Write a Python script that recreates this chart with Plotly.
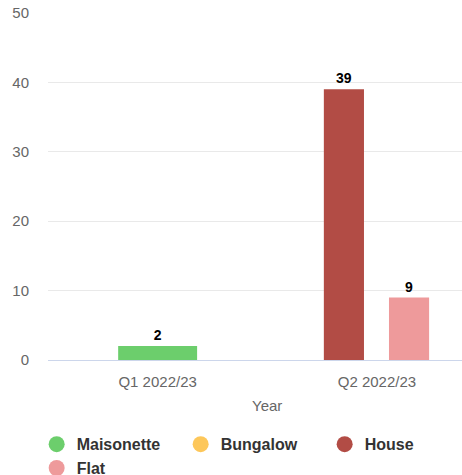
import plotly.graph_objects as go

# Quarterly counts by property type
quarters = ["Q1 2022/23", "Q2 2022/23"]
series_names = ["Maisonette", "Bungalow", "House", "Flat"]
maisonette = [2, None]
bungalow = [None, None]
house = [None, 39]
flat = [None, 9]
y_ticks = [0, 10, 20, 30, 40, 50]

values = [maisonette, bungalow, house, flat]
colors = ["#6cce6c", "#fdc75a", "#b24c45", "#ee9a9b"]
# per-series bar width and offset within a category slot
bar_width = [0.36, 0.183, 0.183, 0.183]
bar_offset = [-0.18, -0.18, -0.242, 0.055]

FONT = "Liberation Sans, Arial, sans-serif"

fig = go.Figure()
for name, vals, col, w, off in zip(series_names, values, colors, bar_width, bar_offset):
    fig.add_trace(go.Bar(
        x=quarters, y=vals, name=name,
        marker=dict(color=col, line=dict(width=0)),
        width=w, offset=off,
        text=[("" if v is None else str(v)) for v in vals],
        textposition="outside",
        textfont=dict(family=FONT, size=14, color="#000000", weight="bold"),
        cliponaxis=False,
        showlegend=False,
    ))
    # circular legend entry
    fig.add_trace(go.Scatter(
        x=[None], y=[None], mode="markers", name=name,
        marker=dict(color=col, size=16, symbol="circle"),
        showlegend=True,
    ))

fig.update_layout(
    width=462, height=475,
    margin=dict(l=48, r=0, t=13, b=115, autoexpand=False),
    paper_bgcolor="#ffffff", plot_bgcolor="#ffffff",
    barmode="overlay",
    font=dict(family=FONT, color="#666666"),
    xaxis=dict(
        type="category", range=[-0.5, 1.388],
        showgrid=False, showline=True, linecolor="#ccd6eb", linewidth=1,
        ticks="", tickfont=dict(size=15, color="#666666"),
        ticklabelstandoff=8,
        fixedrange=True,
    ),
    yaxis=dict(
        range=[0, 50], tickvals=y_ticks,
        showgrid=True, gridcolor="#e9e9e9", gridwidth=1,
        zeroline=False, showline=False,
        ticks="", tickfont=dict(size=15, color="#666666"),
        ticklabelstandoff=18,
    ),
    legend=dict(
        orientation="h", xref="paper", yref="paper",
        x=-0.0274, y=-0.194, xanchor="left", yanchor="top",
        entrywidth=99, entrywidthmode="pixels",
        font=dict(family=FONT, size=16, color="#333333", weight="bold"),
        itemclick=False, itemdoubleclick=False,
    ),
    annotations=[dict(
        text="Year", x=0.5, xref="x", y=-0.13, yref="paper", yanchor="middle",
        showarrow=False, font=dict(family=FONT, size=15, color="#666666"),
    )],
)

fig.write_html("out.html")
